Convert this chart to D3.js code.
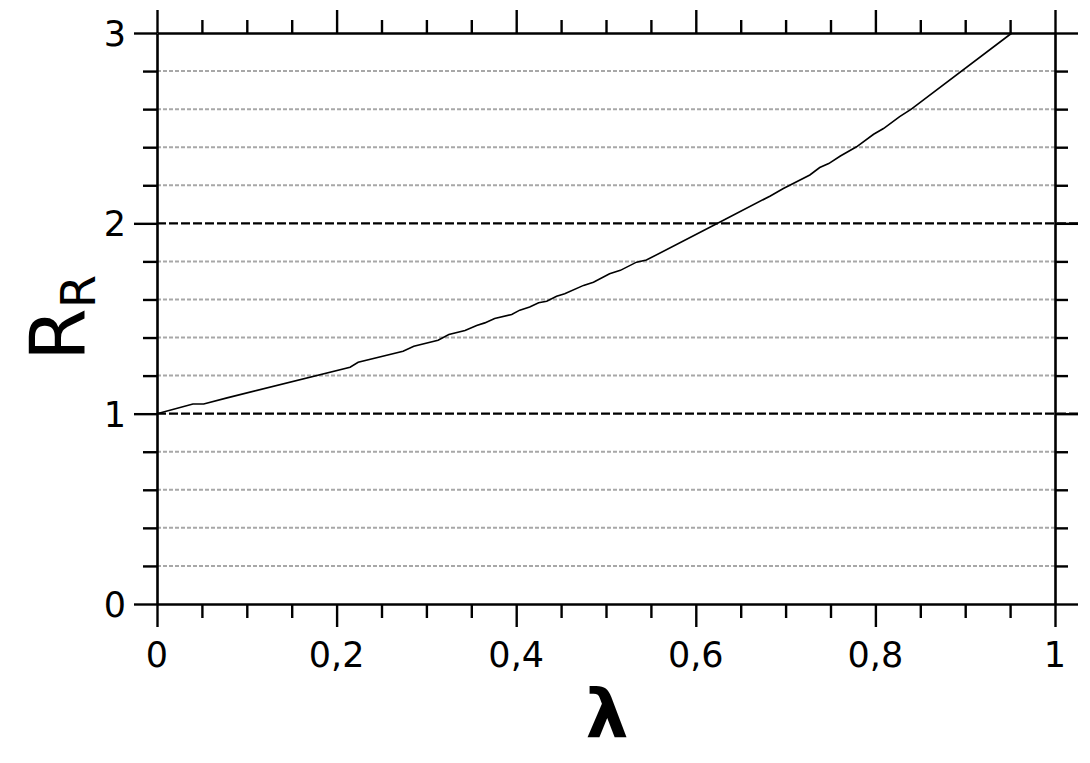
<!DOCTYPE html>
<html lang="en">
<head>
<meta charset="UTF-8" />
<title>R_R vs lambda</title>
<script src="https://cdn.jsdelivr.net/npm/d3@7/dist/d3.min.js"></script>
<style>
  body { margin: 0; background: #fff; }
  text { font-family: 'DejaVu Sans', Verdana, sans-serif; fill: #000; }
</style>
</head>
<body>
<svg class="svg" width="1090" height="763"></svg>
<script>
// curve
const lambda = [0, 0.04, 0.052, 0.078, 0.215, 0.224, 0.274, 0.286, 0.313, 0.325,
  0.343, 0.356, 0.365, 0.376, 0.395, 0.404, 0.415, 0.425, 0.434, 0.445,
  0.454, 0.475, 0.486, 0.504, 0.516, 0.534, 0.545, 0.627, 0.683, 0.697,
  0.727, 0.738, 0.748, 0.761, 0.779, 0.798, 0.809, 0.827, 0.840, 0.952];
const rr = [1.0, 1.051, 1.051, 1.083, 1.244, 1.27, 1.328, 1.354, 1.386, 1.416,
  1.437, 1.463, 1.477, 1.50, 1.521, 1.544, 1.56, 1.583, 1.591, 1.617,
  1.63, 1.674, 1.691, 1.735, 1.753, 1.796, 1.807, 2.007, 2.144, 2.182,
  2.254, 2.293, 2.314, 2.354, 2.402, 2.468, 2.498, 2.561, 2.6, 3.0];
const xTickLabels = ['0', '0,2', '0,4', '0,6', '0,8', '1'];
const yTickLabels = ['0', '1', '2', '3'];
const xMinor = d3.range(0, 21).map(i => i * 0.05);
const yMinor = d3.range(0, 16).map(i => i * 0.2);
const yMajorGrid = [1, 2];

const svg = d3.select('.svg');
const x = d3.scaleLinear().domain([0, 1]).range([157, 1055]);
const y = d3.scaleLinear().domain([0, 3]).range([604, 33]);

const isMajorX = v => Math.abs(v * 5 - Math.round(v * 5)) < 1e-6;
const isInt = v => Math.abs(v - Math.round(v)) < 1e-6;

// grey dotted grid
svg.append('g')
  .selectAll('line')
  .data(yMinor.filter(v => !isInt(v)))
  .join('line')
  .attr('x1', x(0)).attr('x2', x(1))
  .attr('y1', d => y(d)).attr('y2', d => y(d))
  .attr('stroke', '#a8a8a8')
  .attr('stroke-width', 2)
  .attr('stroke-dasharray', '4,2');

// black dashed at 1 and 2
svg.append('g')
  .selectAll('line')
  .data(yMajorGrid)
  .join('line')
  .attr('x1', x(0)).attr('x2', x(1) + 23)
  .attr('y1', d => y(d)).attr('y2', d => y(d))
  .attr('stroke', '#000')
  .attr('stroke-width', 2.2)
  .attr('stroke-dasharray', '9,3');

// axes via d3 (ticks drawn by hand so major / minor can differ in length)
function frameAxis(axisFn, transform, tickAttr, tickLen) {
  const g = svg.append('g').attr('transform', transform)
    .call(axisFn.tickSize(0).tickSizeOuter(0).tickFormat(''));
  g.selectAll('.tick').append('line')
    .attr(tickAttr, tickLen)
    .attr('stroke', '#000').attr('stroke-width', 2.4);
  g.select('.domain').attr('stroke-width', 2.6);
  return g;
}

frameAxis(d3.axisBottom(x).tickValues(xMinor), `translate(0,${y(0)})`,
  'y2', d => isMajorX(d) ? 23 : 14);
frameAxis(d3.axisTop(x).tickValues(xMinor), `translate(0,${y(3)})`,
  'y2', d => isMajorX(d) ? -23 : -13);
frameAxis(d3.axisLeft(y).tickValues(yMinor), `translate(${x(0)},0)`,
  'x2', d => isInt(d) ? -23 : -14);
frameAxis(d3.axisRight(y).tickValues(yMinor), `translate(${x(1)},0)`,
  'x2', d => isInt(d) ? 23 : 13);

// tick labels
svg.append('g')
  .selectAll('text')
  .data(xTickLabels)
  .join('text')
  .attr('x', (d, i) => x(i * 0.2))
  .attr('y', 667)
  .attr('text-anchor', 'middle')
  .attr('font-size', 35)
  .text(d => d);

svg.append('g')
  .selectAll('text')
  .data(yTickLabels)
  .join('text')
  .attr('x', 126)
  .attr('y', (d, i) => y(i) + 13)
  .attr('text-anchor', 'end')
  .attr('font-size', 35)
  .text(d => d);

// curve
const line = d3.line().x(d => x(d[0])).y(d => y(d[1]));
svg.append('path')
  .datum(d3.zip(lambda, rr))
  .attr('d', line)
  .attr('fill', 'none')
  .attr('stroke', '#000')
  .attr('stroke-width', 1.6);

// axis titles
svg.append('text')
  .attr('x', 607)
  .attr('y', 738)
  .attr('text-anchor', 'middle')
  .attr('font-size', 68)
  .attr('font-weight', 'bold')
  .text('λ');

const yt = svg.append('text')
  .attr('transform', 'translate(85,318) rotate(-90)')
  .attr('text-anchor', 'middle')
  .attr('font-size', 76);
yt.append('tspan').text('R');
yt.append('tspan').attr('font-size', 48).attr('dy', 10).text('R');
</script>
</body>
</html>
